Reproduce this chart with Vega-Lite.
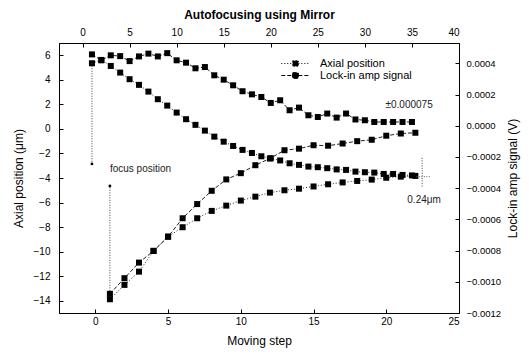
{
  "$schema": "https://vega.github.io/schema/vega-lite/v6.json",
  "width": 400,
  "height": 270,
  "autosize": {"type": "none"},
  "padding": {"left": 59, "top": 43, "right": 70, "bottom": 42},
  "background": "white",
  "datasets": {
    "mirror": [
      {"t": 1, "axial": 5.35, "lockin": 0.000457},
      {"t": 2, "axial": 5.62, "lockin": 0.000419},
      {"t": 3, "axial": 5.13, "lockin": 0.000451},
      {"t": 4, "axial": 4.59, "lockin": 0.000446},
      {"t": 5, "axial": 4.05, "lockin": 0.000414},
      {"t": 6, "axial": 3.59, "lockin": 0.000444},
      {"t": 7, "axial": 3.04, "lockin": 0.000462},
      {"t": 8, "axial": 2.42, "lockin": 0.000444},
      {"t": 9, "axial": 1.90, "lockin": 0.000465},
      {"t": 10, "axial": 1.33, "lockin": 0.000419},
      {"t": 11, "axial": 0.79, "lockin": 0.000404},
      {"t": 12, "axial": 0.33, "lockin": 0.000368},
      {"t": 13, "axial": -0.14, "lockin": 0.000376},
      {"t": 14, "axial": -0.63, "lockin": 0.000323},
      {"t": 15, "axial": -1.04, "lockin": 0.000295},
      {"t": 16, "axial": -1.39, "lockin": 0.000259},
      {"t": 17, "axial": -1.71, "lockin": 0.000221},
      {"t": 18, "axial": -1.96, "lockin": 0.000201},
      {"t": 19, "axial": -2.23, "lockin": 0.000184},
      {"t": 20, "axial": -2.39, "lockin": 0.000146},
      {"t": 21, "axial": -2.57, "lockin": 0.000163},
      {"t": 22, "axial": -2.80, "lockin": 0.000099},
      {"t": 23, "axial": -2.93, "lockin": 0.000116},
      {"t": 24, "axial": -3.07, "lockin": 0.000067},
      {"t": 25, "axial": -3.12, "lockin": 0.000056},
      {"t": 26, "axial": -3.20, "lockin": 0.000078},
      {"t": 27, "axial": -3.30, "lockin": 0.000052},
      {"t": 28, "axial": -3.34, "lockin": 0.000078},
      {"t": 29, "axial": -3.48, "lockin": 0.000040},
      {"t": 30, "axial": -3.53, "lockin": 0.000035},
      {"t": 31, "axial": -3.56, "lockin": 0.000024},
      {"t": 32, "axial": -3.67, "lockin": 0.000024},
      {"t": 33, "axial": -3.67, "lockin": 0.000024},
      {"t": 34, "axial": -3.75, "lockin": 0.000024},
      {"t": 35, "axial": -3.79, "lockin": 0.000024}
    ],
    "steps": [
      {"s": 1, "axial": -13.88, "lockin": -0.001077},
      {"s": 2, "axial": -12.71, "lockin": -0.000977},
      {"s": 3, "axial": -11.63, "lockin": -0.000877},
      {"s": 4, "axial": -9.94, "lockin": -0.000802},
      {"s": 5, "axial": -8.78, "lockin": -0.000711},
      {"s": 6, "axial": -8.01, "lockin": -0.000593},
      {"s": 7, "axial": -7.28, "lockin": -0.000502},
      {"s": 8, "axial": -6.68, "lockin": -0.000417},
      {"s": 9, "axial": -6.25, "lockin": -0.000344},
      {"s": 10, "axial": -5.84, "lockin": -0.000304},
      {"s": 11, "axial": -5.52, "lockin": -0.000253},
      {"s": 12, "axial": -5.19, "lockin": -0.000210},
      {"s": 13, "axial": -5.00, "lockin": -0.000157},
      {"s": 14, "axial": -4.87, "lockin": -0.000147},
      {"s": 15, "axial": -4.69, "lockin": -0.000125},
      {"s": 16, "axial": -4.51, "lockin": -0.000128},
      {"s": 17, "axial": -4.36, "lockin": -0.000114},
      {"s": 18, "axial": -4.24, "lockin": -0.000099},
      {"s": 19, "axial": -4.13, "lockin": -0.000090},
      {"s": 20, "axial": -3.98, "lockin": -0.000064},
      {"s": 21, "axial": -3.89, "lockin": -0.000050},
      {"s": 22, "axial": -3.83, "lockin": -0.000045}
    ]
  },
  "config": {
    "view": {"stroke": "black", "strokeWidth": 1},
    "font": "Liberation Sans",
    "axis": {
      "grid": false,
      "domainColor": "black",
      "tickColor": "black",
      "tickSize": -4,
      "labelFont": "Liberation Sans",
      "labelFontSize": 10,
      "labelColor": "black",
      "titleFont": "Liberation Sans",
      "titleFontSize": 12,
      "titleFontWeight": "normal",
      "titleColor": "black"
    }
  },
  "resolve": {"scale": {"x": "independent", "y": "independent"}},
  "layer": [
    {
      "data": {"name": "steps"},
      "encoding": {
        "x": {
          "field": "s", "type": "quantitative",
          "scale": {"domain": [-2.5, 25], "nice": false, "zero": false},
          "axis": {"orient": "bottom", "title": "Moving step", "values": [0, 5, 10, 15, 20, 25], "labelPadding": 7, "titlePadding": 9}
        },
        "y": {
          "field": "axial", "type": "quantitative",
          "scale": {"domain": [-15, 7], "nice": false, "zero": false},
          "axis": {"orient": "left", "title": "Axial position (μm)", "values": [-14, -12, -10, -8, -6, -4, -2, 0, 2, 4, 6], "labelPadding": 13, "titlePadding": 8}
        }
      },
      "layer": [
        {
          "mark": {"type": "line", "color": "#222", "strokeWidth": 1},
          "encoding": {
            "strokeDash": {
              "datum": "Axial position",
              "scale": {"domain": ["Axial position", "Lock-in amp signal"], "range": [[1, 2], [4, 2]]},
              "legend": {
                "title": null,
                "orient": "none",
                "legendX": 231,
                "legendY": 15,
                "symbolType": "M-3,0H-0.6M0.6,0H3M-0.6,-0.6H0.6V0.6H-0.6Z",
                "symbolSize": 90,
                "symbolStrokeWidth": 1,
                "symbolFillColor": "black",
                "symbolStrokeColor": "black",
                "labelFontSize": 11,
                "labelFont": "Liberation Sans",
                "rowPadding": 0,
                "labelOffset": 19,
                "encode": {"symbols": {"update": {"fill": {"value": "black"}, "fillOpacity": {"value": 1}, "stroke": {"value": "black"}}}}
              }
            }
          }
        },
        {"mark": {"type": "point", "shape": "square", "filled": true, "color": "black", "size": 36, "opacity": 1}},
        {
          "data": {"values": [{"s": 1, "axial": -13.4, "axial2": -4.65}]},
          "mark": {"type": "rule", "color": "#444", "strokeDash": [1, 1.5], "strokeWidth": 1},
          "encoding": {"y2": {"field": "axial2"}}
        },
        {
          "data": {"values": [{"s": 1, "axial": -4.65}]},
          "mark": {"type": "point", "shape": "circle", "filled": true, "color": "black", "size": 8, "opacity": 1}
        },
        {
          "data": {"values": [{"s": 22.47, "axial": -2.36, "axial2": -4.81}]},
          "mark": {"type": "rule", "color": "#444", "strokeDash": [1, 1.5], "strokeWidth": 1},
          "encoding": {"y2": {"field": "axial2"}}
        },
        {
          "data": {"values": [{"s": 22.07, "s2": 23.1, "axial": -3.89}]},
          "mark": {"type": "rule", "color": "#666", "strokeDash": [1, 1.5], "strokeWidth": 1},
          "encoding": {"x2": {"field": "s2"}}
        },
        {
          "data": {"values": [{"s": 1.0, "axial": -3.28, "label": "focus position"}]},
          "mark": {"type": "text", "align": "left", "baseline": "middle", "fontSize": 10, "font": "Liberation Sans", "color": "#222"},
          "encoding": {"text": {"field": "label"}}
        },
        {
          "data": {"values": [{"s": 22.6, "axial": -5.79, "label": "0.24μm"}]},
          "mark": {"type": "text", "align": "center", "baseline": "middle", "fontSize": 10, "font": "Liberation Sans", "color": "#222"},
          "encoding": {"text": {"field": "label"}}
        }
      ]
    },
    {
      "data": {"name": "steps"},
      "encoding": {
        "x": {"field": "s", "type": "quantitative", "scale": {"domain": [-2.5, 25], "nice": false, "zero": false}, "axis": null},
        "y": {
          "field": "lockin", "type": "quantitative",
          "scale": {"domain": [-0.0012, 0.00053], "nice": false, "zero": false},
          "axis": {"orient": "right", "title": "Lock-in amp signal (V)", "titleAngle": 270, "format": ".4f", "values": [-0.0012, -0.001, -0.0008, -0.0006, -0.0004, -0.0002, 0, 0.0002, 0.0004], "labelFontSize": 9.5, "labelPadding": 11, "titlePadding": 19}
        }
      },
      "layer": [
        {
          "mark": {"type": "line", "color": "#222", "strokeWidth": 1},
          "encoding": {
            "strokeDash": {
              "datum": "Lock-in amp signal",
              "scale": {"domain": ["Axial position", "Lock-in amp signal"], "range": [[1, 2], [4, 2]]}
            }
          }
        },
        {"mark": {"type": "point", "shape": "square", "filled": true, "color": "black", "size": 36, "opacity": 1}}
      ]
    },
    {
      "data": {"name": "mirror"},
      "encoding": {
        "x": {
          "field": "t", "type": "quantitative",
          "scale": {"domain": [-2.5, 40], "nice": false, "zero": false},
          "axis": {"orient": "top", "title": "Autofocusing using Mirror", "titleFontWeight": "bold", "values": [0, 5, 10, 15, 20, 25, 30, 35, 40], "labelPadding": 10, "titlePadding": 6}
        },
        "y": {"field": "axial", "type": "quantitative", "scale": {"domain": [-15, 7], "nice": false, "zero": false}, "axis": null}
      },
      "layer": [
        {"mark": {"type": "line", "color": "#222", "strokeWidth": 1, "strokeDash": [1, 2]}},
        {"mark": {"type": "point", "shape": "square", "filled": true, "color": "black", "size": 36, "opacity": 1}},
        {
          "data": {"values": [{"t": 1, "axial": 5.35, "axial2": -2.85}]},
          "mark": {"type": "rule", "color": "#444", "strokeDash": [1, 1.5], "strokeWidth": 1},
          "encoding": {"y2": {"field": "axial2"}}
        },
        {
          "data": {"values": [{"t": 1, "axial": -2.85}]},
          "mark": {"type": "point", "shape": "circle", "filled": true, "color": "black", "size": 8, "opacity": 1}
        }
      ]
    },
    {
      "data": {"name": "mirror"},
      "encoding": {
        "x": {"field": "t", "type": "quantitative", "scale": {"domain": [-2.5, 40], "nice": false, "zero": false}, "axis": null},
        "y": {"field": "lockin", "type": "quantitative", "scale": {"domain": [-0.0012, 0.00053], "nice": false, "zero": false}, "axis": null}
      },
      "layer": [
        {"mark": {"type": "line", "color": "#222", "strokeWidth": 1, "strokeDash": [4, 2]}},
        {"mark": {"type": "point", "shape": "square", "filled": true, "color": "black", "size": 36, "opacity": 1}},
        {
          "data": {"values": [{"t": 34.7, "lockin": 0.000131, "label": "±0.000075"}]},
          "mark": {"type": "text", "align": "center", "baseline": "middle", "fontSize": 10, "font": "Liberation Sans", "color": "#222"},
          "encoding": {"text": {"field": "label"}}
        }
      ]
    }
  ]
}
